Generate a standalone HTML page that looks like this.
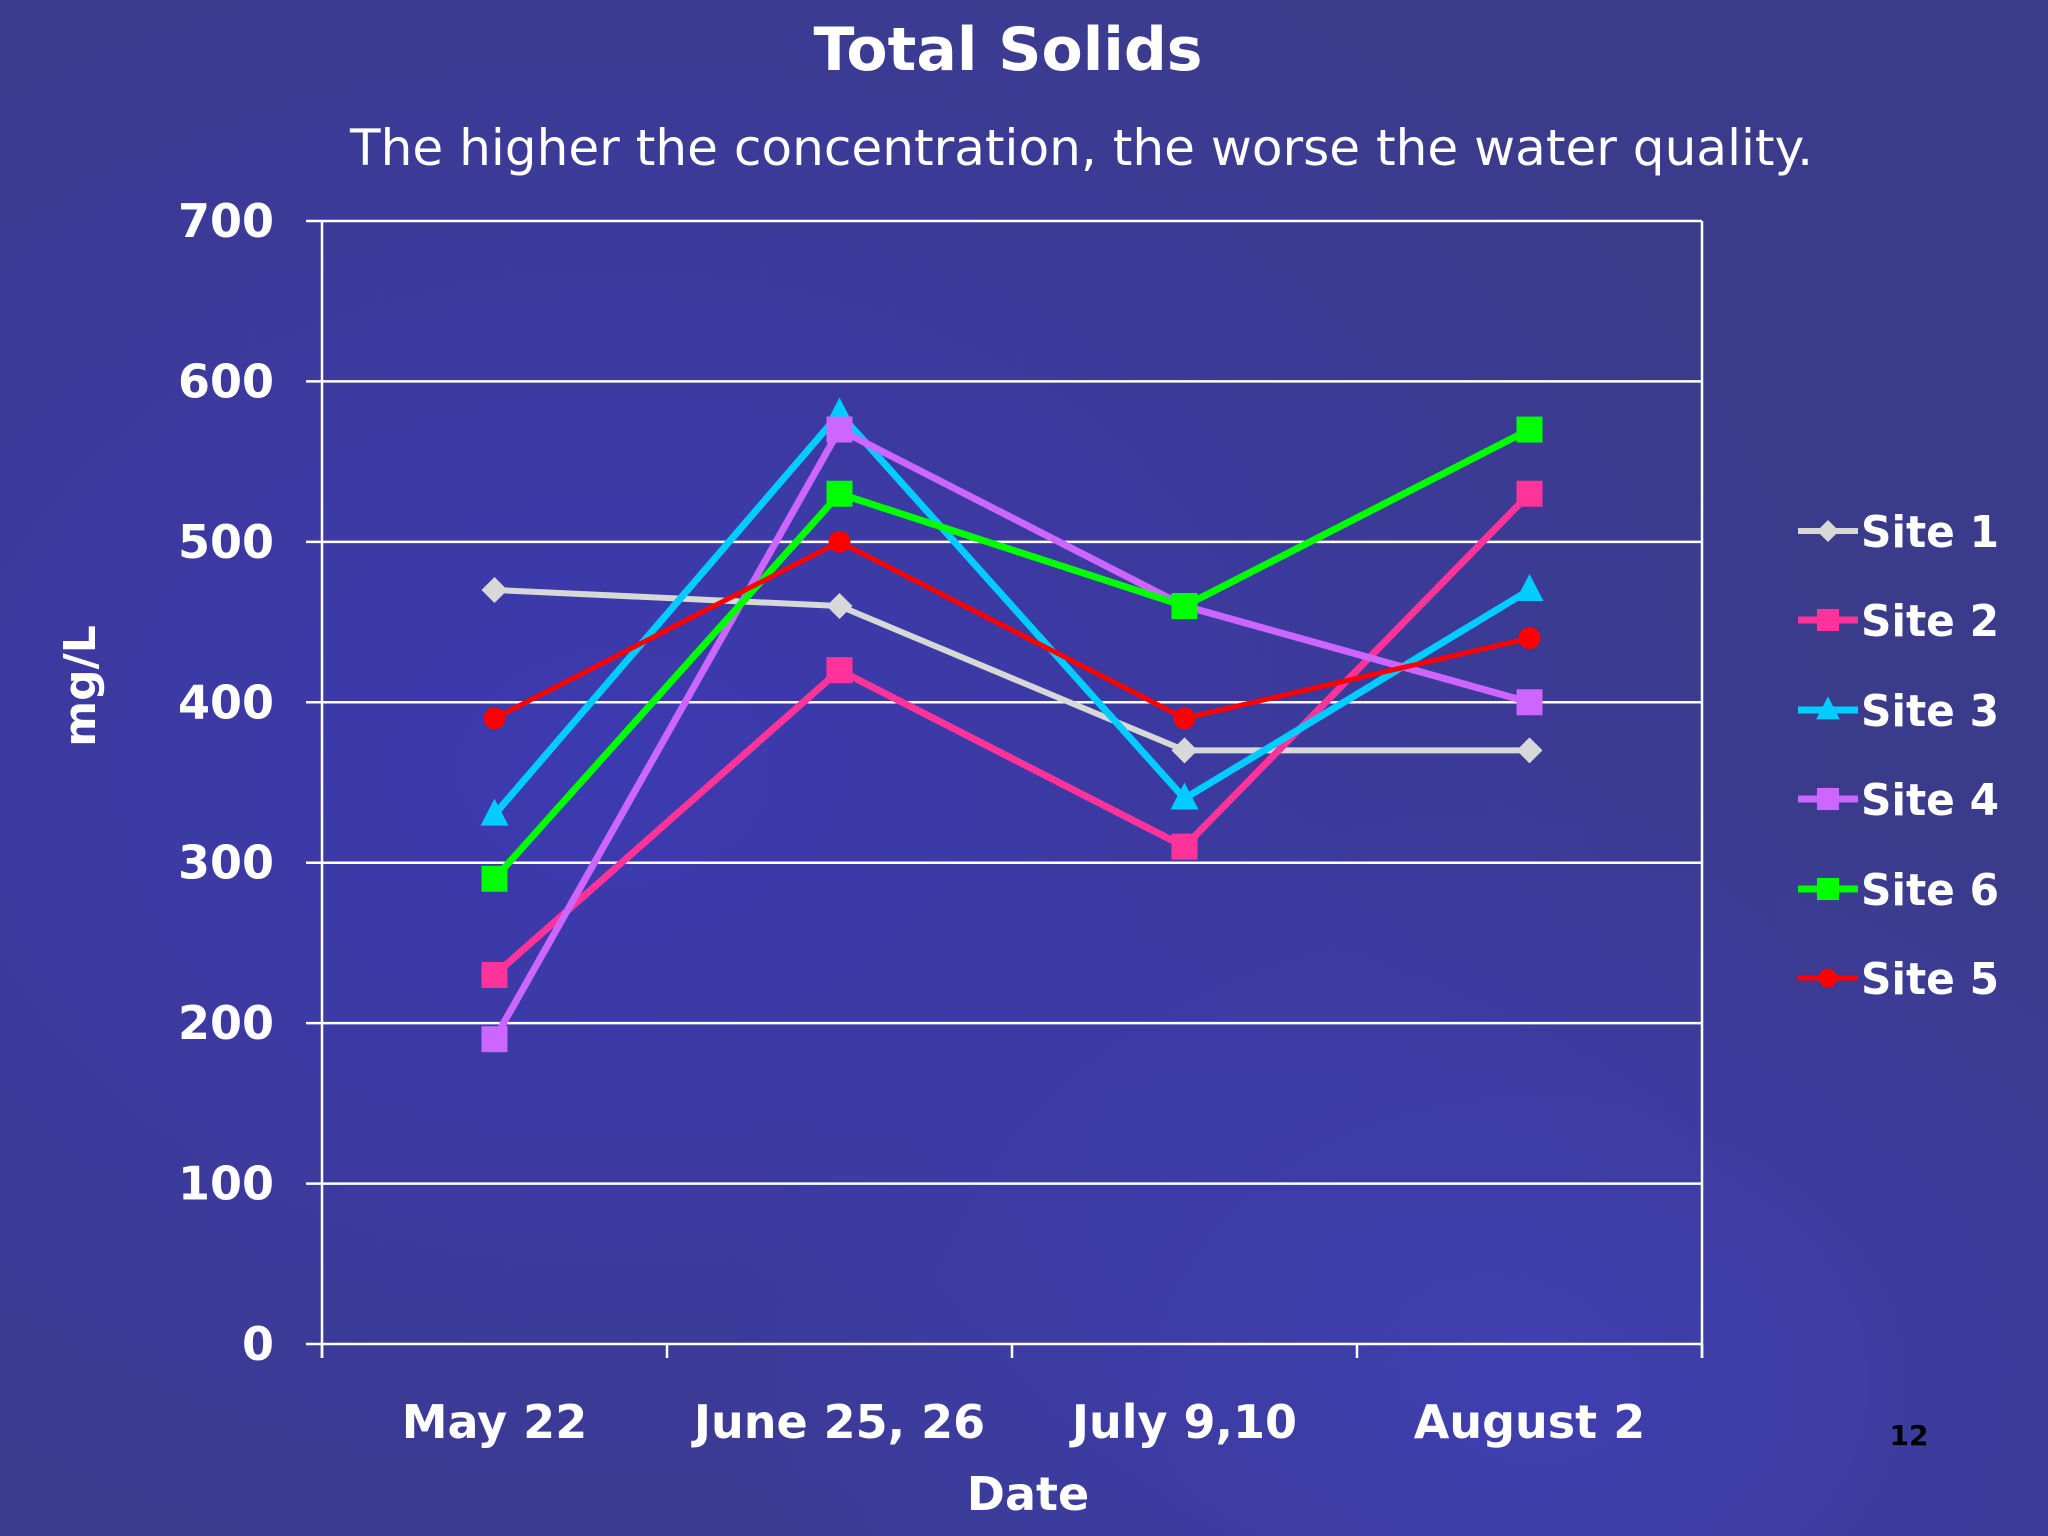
<!DOCTYPE html>
<html><head><meta charset="utf-8"><style>
html,body{margin:0;padding:0;width:2048px;height:1536px;overflow:hidden}
body{background:#3a3a98}
text{font-family:"DejaVu Sans","Liberation Sans",sans-serif;fill:#fff;font-weight:bold}
</style></head><body>
<svg id="chart" width="2048" height="1536" xmlns="http://www.w3.org/2000/svg">
<defs>
<radialGradient id="g1" cx="0.3" cy="0.5" r="0.6"><stop offset="0" stop-color="#3c3ab0"/><stop offset="1" stop-color="#3b3b8c"/></radialGradient>
<radialGradient id="g2" cx="0.75" cy="0.9" r="0.4"><stop offset="0" stop-color="#4040c8" stop-opacity="0.6"/><stop offset="1" stop-color="#4040c8" stop-opacity="0"/></radialGradient>
</defs>
<rect width="2048" height="1536" fill="url(#g1)"/>
<rect width="2048" height="1536" fill="url(#g2)"/>
<text x="1008" y="70" font-size="60" text-anchor="middle">Total Solids</text>
<text x="350" y="165" font-size="50" style="font-weight:normal" textLength="1463" lengthAdjust="spacingAndGlyphs">The higher the concentration, the worse the water quality.</text>
<g id="grid"></g><g id="series"></g><g id="legend"></g>
<text transform="translate(95,686) rotate(-90)" font-size="44" text-anchor="middle">mg/L</text>
<text x="1028" y="1510" font-size="46" text-anchor="middle">Date</text>
<text x="1909" y="1445" font-size="28" style="fill:#000" text-anchor="middle">12</text>
</svg>
<script>
const categories=["May 22","June 25, 26","July 9,10","August 2"];
const yTicks=[0,100,200,300,400,500,600,700];
const seriesNames=["Site 1","Site 2","Site 3","Site 4","Site 6","Site 5"];
const site1=[470,460,370,370];
const site2=[230,420,310,530];
const site3=[330,580,340,470];
const site4=[190,570,460,400];
const site6=[290,530,460,570];
const site5=[390,500,390,440];
const NS="http://www.w3.org/2000/svg";
const L=322,R=1702,T=221,B=1344,ymax=700;
const y=v=>B-(v/ymax)*(B-T);
const cw=(R-L)/categories.length;
const x=i=>L+cw*(i+0.5);
function mk(t,a,p){const e=document.createElementNS(NS,t);for(const k in a)e.setAttribute(k,a[k]);p.appendChild(e);return e;}
const grid=document.getElementById('grid');
yTicks.forEach(v=>{
 const l=mk('line',{x1:L-16,x2:R,y1:y(v),y2:y(v),stroke:'#fff','stroke-width':2.5},grid);
 
 
 const t=mk('text',{x:274,y:y(v)+16,'font-size':46,'text-anchor':'end'},grid);t.textContent=v;
 
 
});
mk('line',{x1:L,x2:L,y1:T,y2:B+14,stroke:'#fff','stroke-width':2.5},grid);
mk('line',{x1:R,x2:R,y1:T,y2:B+14,stroke:'#fff','stroke-width':2.5},grid);
for(let i=0;i<=categories.length;i++)mk('line',{x1:L+cw*i,x2:L+cw*i,y1:B,y2:B+14,stroke:'#fff','stroke-width':2.5},grid);
categories.forEach((c,i)=>{const t=mk('text',{x:x(i),y:1438,'font-size':46,'text-anchor':'middle'},grid);t.textContent=c;
 
 });
const data=[site1,site2,site3,site4,site6,site5];
const colors=["#d8d8d8","#ff3399","#00ccff","#cc66ff","#00ff00","#ff0000"];
const markers=["diamond","square","triangle","square","square","circle"];
const widths=[6,7,7,7,7,5];
function marker(kind,cx,cy,col,g,s){
 if(kind==='square')return mk('rect',{x:cx-13*s,y:cy-13*s,width:26*s,height:26*s,fill:col},g);
 if(kind==='diamond')return mk('polygon',{points:`${cx},${cy-13*s} ${cx+13*s},${cy} ${cx},${cy+13*s} ${cx-13*s},${cy}`,fill:col},g);
 if(kind==='triangle')return mk('polygon',{points:`${cx},${cy-16*s} ${cx+14*s},${cy+11*s} ${cx-14*s},${cy+11*s}`,fill:col},g);
 return mk('circle',{cx:cx,cy:cy,r:11*s,fill:col},g);
}
const sg=document.getElementById('series');
data.forEach((d,k)=>{
 const g=mk('g',{},sg);
 
 
 mk('polyline',{points:d.map((v,i)=>x(i)+','+y(v)).join(' '),fill:'none',stroke:colors[k],'stroke-width':widths[k],'stroke-linejoin':'round'},g);
 d.forEach((v,i)=>{const m=marker(markers[k],x(i),y(v),colors[k],g,1);
  
  });
});
const lg=document.getElementById('legend');
const ly=[531,620,710,799,889,978];
seriesNames.forEach((n,k)=>{
 const g=mk('g',{},lg);
 
 
 mk('line',{x1:1798,x2:1858,y1:ly[k],y2:ly[k],stroke:colors[k],'stroke-width':widths[k]},g);
 marker(markers[k],1828,ly[k],colors[k],g,0.85);
 const t=mk('text',{x:1861,y:ly[k]+16,'font-size':44,textLength:138,lengthAdjust:'spacingAndGlyphs'},g);t.textContent=n;
});
</script>
</body></html>
